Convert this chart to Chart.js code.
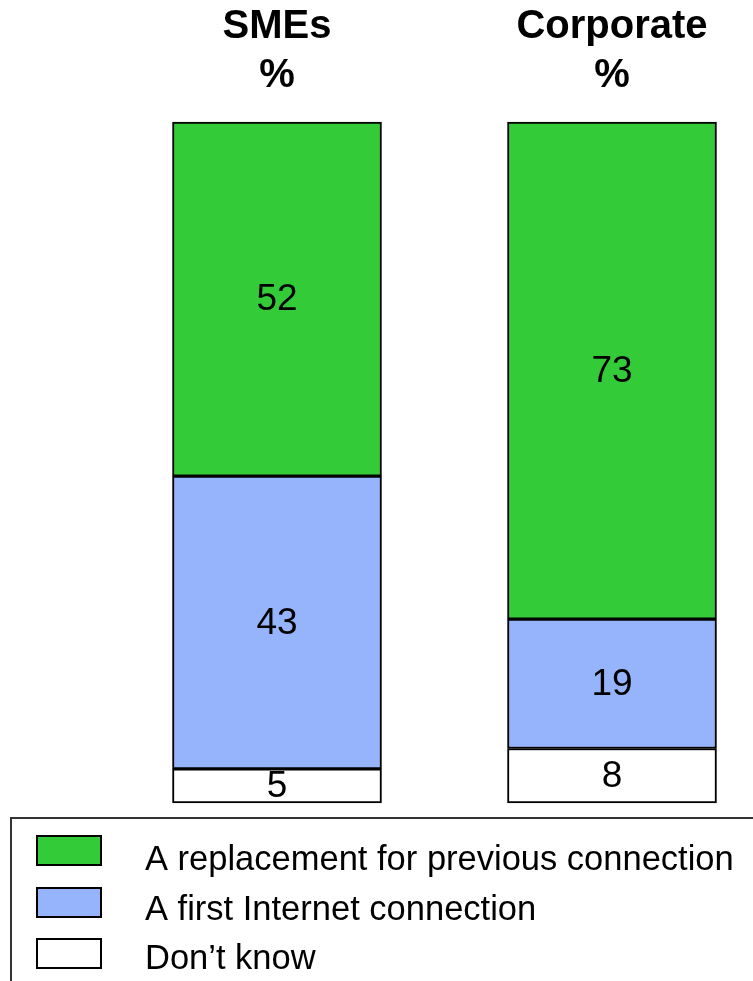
<!DOCTYPE html>
<html>
<head>
<meta charset="utf-8">
<script src="https://cdn.jsdelivr.net/npm/chart.js@4"></script>
<style>
  html, body { margin: 0; padding: 0; background: #fff; }
  canvas { display: block; }
</style>
</head>
<body>
<canvas id="chart" width="753" height="981"></canvas>
<script>
// groups shown as column headers
const groups = [["SMEs", "%"], ["Corporate", "%"]];

// series, bottom of the stack first
const dontKnow = [5, 8];
const firstConnection = [43, 19];
const replacement = [52, 73];

const seriesNames = ["Don\u2019t know", "A first Internet connection", "A replacement for previous connection"];
const seriesColors = ["#ffffff", "#95b4fb", "#33cc38"];

const FONT = "'Liberation Sans', Arial, sans-serif";

// numbers inside each segment
const segmentLabels = {
  id: "segmentLabels",
  afterDatasetsDraw(chart) {
    const ctx = chart.ctx;
    ctx.save();
    ctx.font = "37px " + FONT;
    ctx.fillStyle = "#000";
    ctx.textAlign = "center";
    ctx.textBaseline = "middle";
    chart.data.datasets.forEach((ds, i) => {
      chart.getDatasetMeta(i).data.forEach((bar, j) => {
        const p = bar.getProps(["x", "y", "base"], true);
        ctx.fillText(String(ds.data[j]), p.x, (p.y + p.base) / 2 + 1);
      });
    });
    ctx.restore();
  }
};

// boxed legend at the bottom, top series first
const boxLegend = {
  id: "boxLegend",
  afterDraw(chart) {
    const ctx = chart.ctx;
    ctx.save();
    ctx.strokeStyle = "#333";
    ctx.lineWidth = 2;
    ctx.strokeRect(11, 818, 800, 220);

    ctx.font = "34.5px " + FONT;
    ctx.textBaseline = "alphabetic";
    ctx.fillStyle = "#000";
    const items = chart.data.datasets.slice().reverse();
    const swatchTops = [836, 888, 939];
    const baselines = [870, 920, 969];
    items.forEach((ds, k) => {
      ctx.fillStyle = ds.backgroundColor;
      ctx.fillRect(37, swatchTops[k], 64, 29);
      ctx.strokeStyle = "#000";
      ctx.lineWidth = 2;
      ctx.strokeRect(37, swatchTops[k], 64, 29);
      ctx.fillStyle = "#000";
      ctx.fillText(ds.label, 145, baselines[k]);
    });
    ctx.restore();
  }
};

const seriesData = [dontKnow, firstConnection, replacement];

new Chart(document.getElementById("chart"), {
  type: "bar",
  data: {
    labels: groups,
    datasets: seriesData.map((d, i) => ({
      label: seriesNames[i],
      data: d,
      backgroundColor: seriesColors[i],
      borderColor: "#000",
      borderWidth: 2,
      borderSkipped: false,
      barThickness: 209,
      clip: false
    }))
  },
  options: {
    responsive: false,
    animation: false,
    layout: { padding: { left: 277, right: 141, top: 0, bottom: 178 } },
    plugins: {
      legend: { display: false },
      tooltip: { enabled: false }
    },
    scales: {
      x: {
        position: "top",
        stacked: true,
        offset: false,
        grid: { display: false },
        border: { display: false },
        ticks: {
          autoSkip: false,
          maxRotation: 0,
          padding: 14,
          color: "#000",
          font: { family: FONT, size: 40, weight: "bold", lineHeight: 1.225 }
        },
        afterFit(scale) { scale.height = 122; }
      },
      y: {
        display: false,
        stacked: true,
        min: 0,
        max: 100
      }
    }
  },
  plugins: [segmentLabels, boxLegend]
});
</script>
</body>
</html>
